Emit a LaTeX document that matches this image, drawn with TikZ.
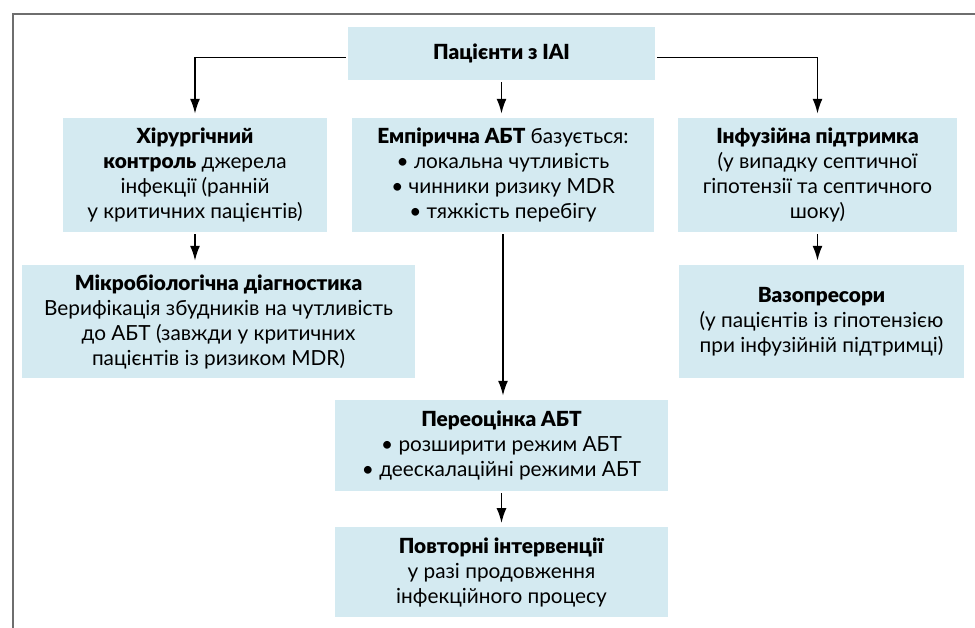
\documentclass[tikz,border=0pt]{standalone}
\usepackage{fontspec}
\setmainfont{Lato}[BoldFont={Lato Black}]
\usepackage{tikz}
\usetikzlibrary{arrows.meta, positioning, calc}
\definecolor{flowblue}{HTML}{D4EAF1}
\definecolor{framegray}{HTML}{6E6E6E}
\tikzset{
  box/.style={rectangle,fill=flowblue,inner sep=0pt,align=center,font=\fontsize{20.8}{25}\selectfont},
  boxtop/.style={box,minimum width=264pt,minimum height=114pt},
  flow/.style={line width=1.9pt,-{Latex[length=15pt,width=10pt]},black,shorten >=4pt,shorten <=2pt},
  border/.style={draw=framegray,line width=1.5pt},
}

\begin{document}
\begin{tikzpicture}[x=1pt,y=-1pt]
	\useasboundingbox (0,0) rectangle (975,628);
	\draw[border] (13,628) -- (13,14) -- (975,14);
	\node[box,minimum width=307pt,minimum height=53pt] (P) at (501.5,53.5) {\textbf{Пацієнти з ІАІ}};
	\node[boxtop] (H) at (195,175) {\textbf{Хірургічний}\\\textbf{контроль} джерела\\інфекції (ранній\\у критичних пацієнтів)};
	\node[boxtop,minimum width=302pt] (E) at (503,175) {\textbf{Емпірична АБТ} базується:\\• локальна чутливість\\• чинники ризику MDR\\• тяжкість перебігу};
	\node[boxtop,minimum width=279pt] (I) at (817.5,175) {\textbf{Інфузійна підтримка}\\(у випадку септичної\\гіпотензії та септичного\\шоку)};
	\node[box,minimum width=393pt,minimum height=113pt] (M) at (218.5,321.5) {\textbf{Мікробіологічна діагностика}\\Верифікація збудників на чутливість\\до АБТ (завжди у критичних\\пацієнтів із ризиком MDR)};
	\node[box,minimum width=285pt,minimum height=113pt] (V) at (821.5,321.5) {\textbf{Вазопресори}\\(у пацієнтів із гіпотензією\\при інфузійній підтримці)};
	\node[box,minimum width=333pt,minimum height=91pt] (R) at (501.5,445.5) {\textbf{Переоцінка АБТ}\\• розширити режим АБТ\\• деескалаційні режими АБТ};
	\node[box,minimum width=333pt,minimum height=90pt,below=36pt of R] (T) {\textbf{Повторні інтервенції}\\у разі продовження\\інфекційного процесу};
	\draw[flow] ([yshift=-4pt]P.west) -| (H.north);
	\draw[flow] ([yshift=-4pt]P.east) -| (I.north);
	\draw[flow] (P.south) -- (P.south |- E.north);
	\draw[flow] (H.south) -- (H.south |- M.north);
	\draw[flow] (I.south) -- (I.south |- V.north);
	\draw[flow] (E.south) -- (E.south |- R.north);
	\draw[flow] (R) -- (T);
\end{tikzpicture}
\end{document}
